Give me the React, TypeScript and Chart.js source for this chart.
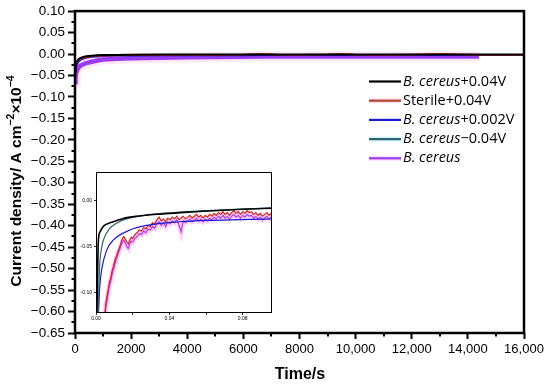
import React, { useEffect, useRef } from 'react';
import { Chart, registerables } from 'chart.js';
Chart.register(...registerables);

// ---------- main chart data ----------
const mainTime = [0, 20, 50, 100, 150, 200, 300, 400, 600, 800, 1000, 1500, 2000, 3000, 4000, 5000, 6000, 6600, 7200, 8000, 9000, 9500, 10000, 11000, 12000, 13100, 14000, 14400, 15000, 16000];
const mainBlack = [-0.04, -0.028, -0.02, -0.014, -0.011, -0.009, -0.007, -0.005, -0.004, -0.003, -0.0025, -0.002, -0.0015, -0.001, -0.001, -0.001, -0.001, -0.001, -0.001, -0.001, -0.001, -0.001, -0.001, -0.0012, -0.0012, -0.0012, -0.0012, -0.0013, -0.0013, -0.0014];
const mainRed = [-0.045, -0.03, -0.022, -0.016, -0.013, -0.011, -0.009, -0.007, -0.005, -0.004, -0.0035, -0.003, -0.0025, -0.002, -0.002, -0.0018, -0.0015, 0.0005, -0.0015, -0.0018, -0.001, 0.0002, -0.0015, -0.0018, -0.0015, 0.0003, -0.0015, -0.0018, -0.002, -0.002];
const mainBlue = [-0.05, -0.036, -0.028, -0.021, -0.017, -0.014, -0.011, -0.009, -0.007, -0.006, -0.005, -0.0042, -0.0038, -0.0035, -0.0033, -0.0032, -0.0031, -0.003, -0.003, -0.003, -0.003, -0.003, -0.003, -0.003, -0.003, -0.003, -0.003, -0.003, -0.003, -0.003];
const mainTeal = [-0.045, -0.032, -0.024, -0.017, -0.014, -0.011, -0.009, -0.007, -0.005, -0.004, -0.0035, -0.003, -0.0025, -0.0022, -0.002, -0.002, -0.002, -0.002, -0.002, -0.002, -0.002, -0.002, -0.002, -0.002, -0.002, -0.002, -0.002, -0.002, -0.002, -0.002];
const mainPurple = [-0.065, -0.05, -0.042, -0.034, -0.03, -0.027, -0.024, -0.021, -0.018, -0.015, -0.013, -0.011, -0.01, -0.0085, -0.0075, -0.007, -0.0065, -0.006, -0.006, -0.006, -0.006, -0.0055, -0.0055, -0.0055, -0.0055, -0.0055, -0.0055, -0.0055, null, null];

const yTickMin = -0.65;
const yTickMax = 0.1;
const yStep = 0.05;
const xTickMax = 16000;
const xStep = 2000;

// ---------- inset data ----------
const insetBlackX = [0.0005, 0.0009, 0.0013, 0.0022, 0.004, 0.0065, 0.0094, 0.014, 0.0185, 0.027, 0.0366, 0.05, 0.064, 0.08, 0.096];
const insetBlackY = [-0.125, -0.075, -0.043, -0.034, -0.028, -0.025, -0.023, -0.02, -0.018, -0.016, -0.0145, -0.0125, -0.011, -0.0095, -0.0083];
const insetTealX = [0.0012, 0.0018, 0.0022, 0.003, 0.004, 0.0076, 0.011, 0.015, 0.025, 0.0366, 0.05, 0.064, 0.08, 0.096];
const insetTealY = [-0.125, -0.08, -0.064, -0.052, -0.043, -0.03, -0.025, -0.021, -0.0165, -0.0137, -0.012, -0.0105, -0.0092, -0.008];
const insetBlueX = [0.0013, 0.002, 0.0031, 0.0058, 0.0094, 0.0185, 0.0276, 0.0457, 0.06, 0.073, 0.085, 0.096];
const insetBlueY = [-0.125, -0.095, -0.075, -0.054, -0.043, -0.032, -0.027, -0.023, -0.0215, -0.021, -0.0205, -0.02];

const insetNoisyX = [
  0.0048, 0.0056, 0.0064, 0.0072, 0.008, 0.0088, 0.0096, 0.0104, 0.0112, 0.012,
  0.0128, 0.0136, 0.0144, 0.0152, 0.016, 0.0168, 0.0176, 0.0184, 0.0192, 0.02,
  0.0212, 0.0224, 0.0236, 0.0248, 0.026, 0.0272, 0.0284, 0.0296, 0.0308, 0.032,
  0.0332, 0.0344, 0.0356, 0.0368, 0.038, 0.0392, 0.0404, 0.0416, 0.0428, 0.044,
  0.0452, 0.0464, 0.0476, 0.0488, 0.05, 0.0512, 0.0524, 0.0536, 0.0548, 0.056,
  0.0572, 0.0584, 0.0596, 0.0608, 0.062, 0.0632, 0.0644, 0.0656, 0.0668, 0.068,
  0.0692, 0.0704, 0.0716, 0.0728, 0.074, 0.0752, 0.0764, 0.0776, 0.0788, 0.08,
  0.0812, 0.0824, 0.0836, 0.0848, 0.086, 0.0872, 0.0884, 0.0896, 0.0908, 0.092,
  0.0932, 0.0944, 0.0956,
];
const insetRedY = [
  -0.122, -0.108, -0.099, -0.09, -0.084, -0.076, -0.071, -0.064, -0.06, -0.055,
  -0.051, -0.046, -0.041, -0.039, -0.042, -0.045, -0.047, -0.043, -0.04, -0.041,
  -0.037, -0.035, -0.032, -0.033, -0.029, -0.031, -0.027, -0.028, -0.024, -0.026,
  -0.021, -0.018, -0.022, -0.02, -0.023, -0.019, -0.021, -0.018, -0.02, -0.017,
  -0.021, -0.019, -0.017, -0.02, -0.018, -0.016, -0.019, -0.017, -0.015, -0.018,
  -0.016, -0.019, -0.016, -0.018, -0.015, -0.017, -0.014, -0.016, -0.013, -0.015,
  -0.012, -0.015, -0.013, -0.016, -0.013, -0.011, -0.014, -0.012, -0.015, -0.012,
  -0.014, -0.011, -0.013, -0.012, -0.015, -0.013, -0.016, -0.014, -0.017, -0.015,
  -0.013, -0.016, -0.014,
];
const insetPurpleY = [
  -0.125, -0.113, -0.104, -0.094, -0.088, -0.08, -0.074, -0.068, -0.063, -0.058,
  -0.054, -0.049, -0.045, -0.043, -0.046, -0.05, -0.052, -0.047, -0.044, -0.045,
  -0.041, -0.039, -0.036, -0.037, -0.033, -0.035, -0.031, -0.032, -0.028, -0.03,
  -0.025, -0.023, -0.027, -0.024, -0.028, -0.023, -0.025, -0.022, -0.024, -0.021,
  -0.026, -0.034, -0.022, -0.024, -0.022, -0.02, -0.023, -0.021, -0.019, -0.022,
  -0.02, -0.023, -0.02, -0.022, -0.019, -0.021, -0.018, -0.02, -0.017, -0.019,
  -0.016, -0.019, -0.017, -0.02, -0.017, -0.015, -0.018, -0.016, -0.019, -0.016,
  -0.018, -0.015, -0.017, -0.016, -0.019, -0.017, -0.02, -0.018, -0.021, -0.019,
  -0.017, -0.02, -0.018,
];
const insetXTicks = [0, 0.02, 0.04, 0.06, 0.08];
const insetXLabelled = [0, 0.04, 0.08];
const insetYTicks = [-0.1, -0.05, 0];

// ---------- legend ----------
type Part = { t: string; i: boolean };
const legendLabels: Part[][] = [
  [{ t: 'B. cereus', i: true }, { t: '+0.04V', i: false }],
  [{ t: 'Sterile+0.04V', i: false }],
  [{ t: 'B. cereus', i: true }, { t: '+0.002V', i: false }],
  [{ t: 'B. cereus', i: true }, { t: '\u22120.04V', i: false }],
  [{ t: 'B. cereus', i: true }],
];
const colBlack = '#000000';
const colRed = '#cf2a1a';
const colBlue = '#1a1ad2';
const colTeal = '#2e6272';
const colPurple = '#9a3cf2';
const legendColors = [colBlack, '#b04a30', colBlue, colTeal, colPurple];
const legendHalos = [null, 'rgba(255,190,220,0.5)', null, 'rgba(190,245,250,0.6)', 'rgba(255,190,240,0.5)'];

const FONT = '"Liberation Sans", Arial, sans-serif';
const LFONT = '"Open Sans", "Liberation Sans", sans-serif';

const pts = (xs: number[], ys: (number | null)[]) => xs.map((x, i) => ({ x, y: ys[i] }));
const fmtMinus = (s: string) => s.replace('-', '\u2212');

const mainDecor = {
  id: 'mainDecor',
  afterDatasetsDraw(chart: any) {
    const { ctx, chartArea: a, scales } = chart;
    ctx.save();
    ctx.strokeStyle = '#000';
    ctx.lineWidth = 2.5;
    ctx.strokeRect(a.left, a.top, a.right - a.left, a.bottom - a.top);
    // minor ticks
    ctx.lineWidth = 2;
    for (let v = yTickMin + yStep / 2; v < yTickMax; v += yStep) {
      const y = Math.round(scales.y.getPixelForValue(v));
      ctx.beginPath();
      ctx.moveTo(a.left - 3.5, y);
      ctx.lineTo(a.left, y);
      ctx.stroke();
    }
    for (let v = xStep / 2; v < xTickMax; v += xStep) {
      const x = Math.round(scales.x.getPixelForValue(v));
      ctx.beginPath();
      ctx.moveTo(x, a.bottom);
      ctx.lineTo(x, a.bottom + 3.5);
      ctx.stroke();
    }
    // legend
    const lx0 = 369, lx1 = 401, tx = 403, y0 = 81.5, dy = 19.2;
    legendLabels.forEach((parts, i) => {
      const y = y0 + i * dy;
      const halo = legendHalos[i];
      if (halo) {
        ctx.strokeStyle = halo;
        ctx.lineWidth = 5;
        ctx.beginPath();
        ctx.moveTo(lx0, y);
        ctx.lineTo(lx1, y);
        ctx.stroke();
      }
      ctx.strokeStyle = legendColors[i];
      ctx.lineWidth = 2.2;
      ctx.beginPath();
      ctx.moveTo(lx0, y);
      ctx.lineTo(lx1, y);
      ctx.stroke();
      let x = tx;
      ctx.fillStyle = '#000';
      ctx.textBaseline = 'middle';
      ctx.textAlign = 'left';
      for (const p of parts) {
        ctx.font = `${p.i ? 'italic ' : ''}14.5px ${LFONT}`;
        ctx.fillText(p.t, x, y);
        x += ctx.measureText(p.t).width;
      }
    });
    // x title
    ctx.font = `bold 16px ${FONT}`;
    ctx.textAlign = 'center';
    ctx.textBaseline = 'middle';
    ctx.fillText('Time/s', 300, 375);
    // y title (rotated with superscripts)
    const segs = [
      { t: 'Current density/ A cm', sup: false },
      { t: '\u22122', sup: true },
      { t: '\u00d710', sup: false },
      { t: '\u22124', sup: true },
    ];
    const fN = `bold 15.5px ${FONT}`;
    const fS = `bold 10.5px ${FONT}`;
    let total = 0;
    for (const s of segs) {
      ctx.font = s.sup ? fS : fN;
      total += ctx.measureText(s.t).width;
    }
    ctx.translate(21, 181);
    ctx.rotate(-Math.PI / 2);
    ctx.textAlign = 'left';
    ctx.textBaseline = 'alphabetic';
    let cx = -total / 2;
    for (const s of segs) {
      ctx.font = s.sup ? fS : fN;
      ctx.fillText(s.t, cx, s.sup ? -7 : 0);
      cx += ctx.measureText(s.t).width;
    }
    ctx.restore();
  },
};

const insetDecor = {
  id: 'insetDecor',
  beforeDatasetsDraw(chart: any) {
    const { ctx, chartArea: a } = chart;
    ctx.save();
    ctx.fillStyle = '#fff';
    ctx.fillRect(a.left, a.top, a.right - a.left, a.bottom - a.top);
    ctx.restore();
  },
  afterDatasetsDraw(chart: any) {
    const { ctx, chartArea: a } = chart;
    ctx.save();
    ctx.strokeStyle = '#000';
    ctx.lineWidth = 1;
    ctx.strokeRect(a.left + 0.5, a.top + 0.5, a.right - a.left - 1, a.bottom - a.top - 1);
    ctx.restore();
  },
};

export default function App() {
  const mainRef = useRef<HTMLCanvasElement>(null);
  const insetRef = useRef<HTMLCanvasElement>(null);

  useEffect(() => {
    const lineDs = (label: string, data: any[], color: string, width: number, extra: any = {}) => ({
      label,
      data,
      borderColor: color,
      backgroundColor: color,
      borderWidth: width,
      pointRadius: 0,
      fill: false,
      spanGaps: false,
      ...extra,
    });

    const main = new Chart(mainRef.current!, {
      type: 'line',
      data: {
        datasets: [
          lineDs('B. cereus+0.04V', pts(mainTime, mainBlack), colBlack, 2),
          lineDs('Sterile+0.04V', pts(mainTime, mainRed), colRed, 1.8),
          lineDs('B. cereus+0.002V', pts(mainTime, mainBlue), colBlue, 1.6),
          lineDs('B. cereus\u22120.04V', pts(mainTime, mainTeal), colTeal, 1.6),
          lineDs('B. cereus', pts(mainTime, mainPurple), colPurple, 4.5),
          lineDs('halo', pts(mainTime, mainPurple), 'rgba(255,200,245,0.45)', 10),
        ],
      },
      options: {
        responsive: false,
        animation: false,
        events: [],
        layout: { padding: { top: 10, right: 26, left: 0, bottom: 0 } },
        plugins: { legend: { display: false }, tooltip: { enabled: false }, title: { display: false } },
        scales: {
          x: {
            type: 'linear',
            min: 0,
            max: xTickMax,
            afterFit: (s: any) => { s.height = 55; },
            ticks: {
              stepSize: xStep,
              autoSkip: false,
              maxRotation: 0,
              padding: 3,
              color: '#000',
              font: { family: FONT, size: 13 },
              callback: (v: any) => (v >= 10000 ? Number(v).toLocaleString('en-US') : String(v)),
            },
            grid: { drawOnChartArea: false, tickLength: 6, tickWidth: 2, tickColor: '#000' },
            border: { display: false },
          },
          y: {
            type: 'linear',
            min: yTickMin,
            max: yTickMax,
            afterFit: (s: any) => { s.width = 75; },
            ticks: {
              stepSize: yStep,
              autoSkip: false,
              padding: 3,
              color: '#000',
              font: { family: FONT, size: 13.5 },
              callback: (v: any) => {
                const n = Math.abs(v) < 1e-9 ? 0 : Number(v);
                return fmtMinus(n.toFixed(2));
              },
            },
            grid: { drawOnChartArea: false, tickLength: 7, tickWidth: 2, tickColor: '#000' },
            border: { display: false },
          },
        },
      },
      plugins: [mainDecor],
    } as any);

    const inset = new Chart(insetRef.current!, {
      type: 'line',
      data: {
        datasets: [
          lineDs('B. cereus+0.04V', pts(insetBlackX, insetBlackY), colBlack, 1.6, { cubicInterpolationMode: 'monotone' }),
          lineDs('B. cereus\u22120.04V', pts(insetTealX, insetTealY), colTeal, 1.2, { cubicInterpolationMode: 'monotone' }),
          lineDs('B. cereus+0.002V', pts(insetBlueX, insetBlueY), colBlue, 1.2, { cubicInterpolationMode: 'monotone' }),
          lineDs('Sterile+0.04V', pts(insetNoisyX, insetRedY), '#d8201a', 1.2),
          lineDs('B. cereus', pts(insetNoisyX, insetPurpleY), '#b03ce6', 1.2),
          lineDs('halo', pts(insetNoisyX, insetPurpleY), 'rgba(255,90,225,0.3)', 5),
        ],
      },
      options: {
        responsive: false,
        animation: false,
        events: [],
        layout: { padding: { top: 8, right: 6, left: 0, bottom: 0 } },
        plugins: { legend: { display: false }, tooltip: { enabled: false } },
        scales: {
          x: {
            type: 'linear',
            min: 0,
            max: 0.096,
            afterFit: (s: any) => { s.height = 11; },
            afterBuildTicks: (s: any) => { s.ticks = insetXTicks.map((v) => ({ value: v })); },
            ticks: {
              autoSkip: false,
              maxRotation: 0,
              padding: 1,
              color: '#000',
              font: { family: FONT, size: 5 },
              callback: (v: any) => (insetXLabelled.some((l) => Math.abs(l - v) < 1e-9) ? Number(v).toFixed(2) : ''),
            },
            grid: { drawOnChartArea: false, tickLength: 2, tickWidth: 0.8, tickColor: '#000' },
            border: { display: false },
          },
          y: {
            type: 'linear',
            min: -0.122,
            max: 0.031,
            afterFit: (s: any) => { s.width = 18; },
            afterBuildTicks: (s: any) => { s.ticks = insetYTicks.map((v) => ({ value: v })); },
            ticks: {
              autoSkip: false,
              padding: 2,
              color: '#000',
              font: { family: FONT, size: 5 },
              callback: (v: any) => (Math.abs(v) < 1e-9 ? '0.00' : Number(v).toFixed(2)),
            },
            grid: { drawOnChartArea: false, tickLength: 2, tickWidth: 0.8, tickColor: '#000' },
            border: { display: false },
          },
        },
      },
      plugins: [insetDecor],
    } as any);

    return () => {
      main.destroy();
      inset.destroy();
    };
  }, []);

  return (
    <div style={{ position: 'fixed', left: 0, top: 0, width: 550, height: 388, background: '#fff' }}>
      <canvas ref={mainRef} width={550} height={388} style={{ position: 'absolute', left: 0, top: 0, width: 550, height: 388 }} />
      <canvas ref={insetRef} width={200} height={160} style={{ position: 'absolute', left: 78, top: 164, width: 200, height: 160 }} />
    </div>
  );
}
